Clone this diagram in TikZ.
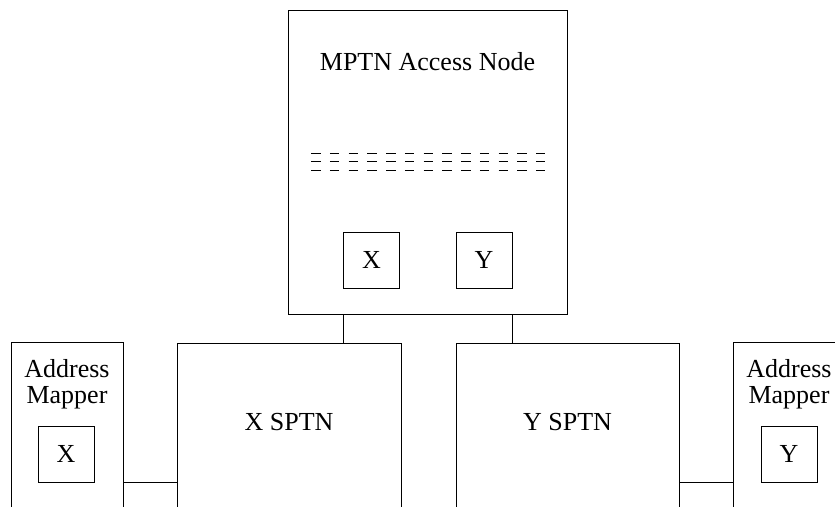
\documentclass[tikz,border=0pt]{standalone}
\usepackage{fontspec}
\setmainfont{Liberation Serif}
\tikzset{
	box/.style={draw, rectangle, line width=1pt, inner sep=0pt},
	port/.style={box, minimum width=56pt, minimum height=56pt},
	wire/.style={line width=1pt},
	txt/.style={inner sep=0pt, align=center},
}
\begin{document}
\begin{tikzpicture}[x=1pt, y=-1pt, font=\fontsize{26}{26}\selectfont]
	
	\useasboundingbox (0,0) rectangle (835,506);
	\clip (0,0) rectangle (835,506);
	
	\node[box, minimum width=279pt, minimum height=304pt] (mptn) at (427.5,162) {};
	\node[txt, anchor=base] (mptnlabel) at (427.5,70) {MPTN Access Node};
	\foreach \y in {153.5,161.5,170} {
		\draw[line width=0.8pt, dash pattern=on 9.5pt off 9.25pt] (311,\y) -- (545,\y);
	}
	\node[port] (xport) at (371.5,260) {X};
	\node[port] (yport) at (484,260) {Y};
	
	\node[box, minimum width=224pt, minimum height=217pt] (xsptn) at (289,451.5) {};
	\node[txt, anchor=base] (xsptnlabel) at (289,430) {X SPTN};
	\node[box, minimum width=223pt, minimum height=217pt] (ysptn) at (567.5,451.5) {};
	\node[txt, anchor=base] (ysptnlabel) at (567.5,430) {Y SPTN};
	
	\node[box, minimum width=112pt, minimum height=218pt] (xmapper) at (67,451) {};
	\node[txt, anchor=north] (xmapperlabel) at (67,359) {Address\\Mapper};
	\node[port] (xmap) at (66,454) {X};
	\node[box, minimum width=112pt, minimum height=218pt] (ymapper) at (789,451) {};
	\node[txt, anchor=north] (ymapperlabel) at (789,359) {Address\\Mapper};
	\node[port] (ymap) at (789,454) {Y};
	
	\draw[wire] (mptn.south -| xport.west) -- (xsptn.north -| xport.west);
	\draw[wire] (mptn.south -| yport.east) -- (ysptn.north -| yport.east);
	\draw[wire] (xmapper.east |- xmap.south) -- (xsptn.west |- xmap.south);
	\draw[wire] (ysptn.east |- ymap.south) -- (ymapper.west |- ymap.south);
	
\end{tikzpicture}
\end{document}
